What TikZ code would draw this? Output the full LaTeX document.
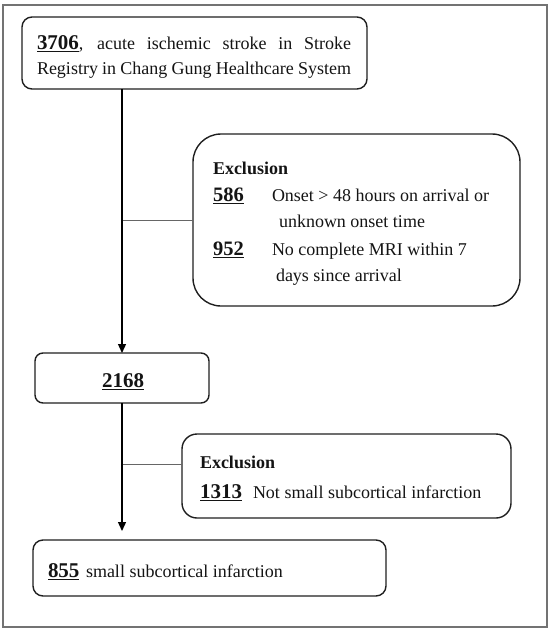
\documentclass[tikz,border=0pt]{standalone}
\usepackage{fontspec}
\setmainfont{Liberation Serif}
\usetikzlibrary{arrows.meta}
\newcommand{\unum}[1]{\setbox0\hbox{#1}\rlap{\rule[-3.2pt]{\wd0}{1.6pt}}\box0}
\newcommand{\txt}{\fontsize{18}{26}\selectfont}
\newcommand{\bignum}[1]{{\fontsize{21}{26}\selectfont\bfseries\unum{#1}}}
\newcommand{\midnum}[1]{{\fontsize{20.5}{26}\selectfont\bfseries\unum{#1}}}
\begin{document}
\begin{tikzpicture}[x=1pt,y=-1pt,
  box/.style={draw=black!88,line width=1.4pt,inner sep=0pt,outer sep=0pt},
  lbl/.style={anchor=base west,inner sep=0pt,outer sep=0pt,text=black!92,font=\txt},
  trunk/.style={draw=black,line width=1.3pt,-{Triangle[length=9pt,width=8pt]}},
  branch/.style={draw=black!60,line width=0.9pt}]
\useasboundingbox (0,0) rectangle (550,630);
\draw[draw=black!55,line width=1.4pt] (3,5) rectangle (547,627);
% boxes
\node[box,rounded corners=10pt,minimum width=345pt,minimum height=72pt] (b1) at (194.5,53) {};
\node[box,rounded corners=28pt,minimum width=327pt,minimum height=172pt] (ex1) at (356.5,220) {};
\node[box,rounded corners=8pt,minimum width=174pt,minimum height=50pt] (b2) at (122,378) {};
\node[box,rounded corners=15pt,minimum width=329pt,minimum height=84pt] (ex2) at (346.5,476) {};
\node[box,rounded corners=10pt,minimum width=353pt,minimum height=56pt] (b3) at (209.5,568) {};
% texts box 1
\node[lbl] (t1a) at (37,49) {\makebox[314pt][s]{\bignum{3706}, acute ischemic stroke in Stroke}};
\node[lbl] (t1b) at (37,74) {\makebox[314pt][s]{Registry in Chang Gung Healthcare System}};
% exclusion 1
\node[lbl] (e1h) at (213,174) {\bfseries Exclusion};
\node[lbl] (e1n1) at (213,201) {\midnum{586}};
\node[lbl] (e1a) at (272,201) {Onset > 48 hours on arrival or};
\node[lbl] (e1b) at (279,227) {unknown onset time};
\node[lbl] (e1n2) at (213,255) {\midnum{952}};
\node[lbl] (e1c) at (272,255) {No complete MRI within 7};
\node[lbl] (e1d) at (276,281) {days since arrival};
% box 2
\node[anchor=base,inner sep=0pt,text=black!92] (t2) at (123,387) {\bignum{2168}};
% exclusion 2
\node[lbl] (e2h) at (200,468) {\bfseries Exclusion};
\node[lbl] (e2n) at (200,498) {\bignum{1313}};
\node[lbl] (e2a) at (253,498) {Not small subcortical infarction};
% box 3
\node[lbl] (t3n) at (48,577) {\bignum{855}};
\node[lbl] (t3a) at (86,577) {small subcortical infarction};
% connectors
\coordinate (tap2) at ([yshift=12pt]ex2.west);
\draw[branch] (b2.north |- ex1.west) -- (ex1.west);
\draw[branch] (b2.south |- tap2) -- (tap2);
\draw[trunk] (b2.north |- b1.south) -- (b2.north);
\draw[trunk,shorten >=9pt] (b2.south) -- (b2.south |- b3.north);
\end{tikzpicture}
\end{document}
